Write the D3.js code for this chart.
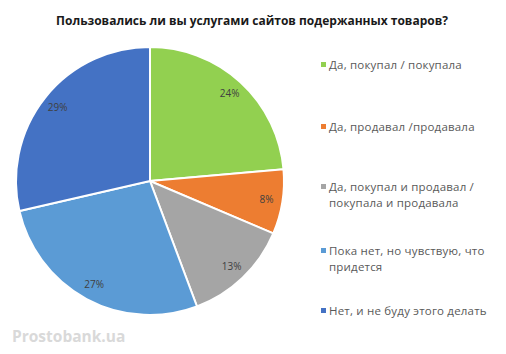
<!DOCTYPE html>
<html>
<head>
<meta charset="UTF-8" />
<title>pie</title>
<script src="https://d3js.org/d3.v7.min.js"></script>
<style>
  body { margin: 0; background: #fff; }
</style>
</head>
<body>
<svg id="chart" width="506" height="354"></svg>
<script>
// data
var title = "Пользовались ли вы услугами сайтов подержанных товаров?"
var categories = [
  ["Да, покупал / покупала"],
  ["Да, продавал /продавала"],
  ["Да, покупал и продавал /", "покупала и продавала"],
  ["Пока нет, но чувствую, что", "придется"],
  ["Нет, и не буду этого делать"]
]
var values = [23.6, 7.8, 12.9, 27.1, 28.6]
var labels = ["24%", "8%", "13%", "27%", "29%"]
var colors = ["#92d050", "#ed7d31", "#a5a5a5", "#5b9bd5", "#4472c4"]
var watermark = "Prostobank.ua"

var svg = d3.select("#chart")
var cx = 150, cy = 181, r = 134

svg.append("text")
  .attr("x", 252).attr("y", 25)
  .attr("text-anchor", "middle")
  .style("font-family", "'Open Sans', sans-serif")
  .style("font-weight", "bold")
  .style("font-size", "12px")
  .attr("fill", "#1a1a1a")
  .text(title)

var pie = d3.pie().sort(null).value(d => d)
var arcs = pie(values)
var arc = d3.arc().innerRadius(0).outerRadius(r)
var labelArc = d3.arc().innerRadius(118).outerRadius(118)

var g = svg.append("g").attr("transform", "translate(" + cx + "," + cy + ")")

g.selectAll("path")
  .data(arcs)
  .enter()
  .append("path")
  .attr("d", arc)
  .attr("fill", (d, i) => colors[i])
  .attr("stroke", "#fff")
  .attr("stroke-width", 2)

g.selectAll("text.lbl")
  .data(arcs)
  .enter()
  .append("text")
  .attr("class", "lbl")
  .attr("transform", d => "translate(" + labelArc.centroid(d) + ")")
  .attr("text-anchor", "middle")
  .attr("dy", "0.35em")
  .style("font-family", "'Open Sans', sans-serif")
  .style("font-size", "10px")
  .attr("fill", "#404040")
  .text((d, i) => labels[i])

// legend
var legendY = [69, 131, 191, 255, 315]
var legend = svg.selectAll("g.leg")
  .data(categories)
  .enter()
  .append("g")
  .attr("class", "leg")
  .attr("transform", (d, i) => "translate(321," + legendY[i] + ")")

legend.append("rect")
  .attr("x", 0).attr("y", -7)
  .attr("width", 5).attr("height", 5)
  .attr("fill", (d, i) => colors[i])

legend.each(function (d) {
  var t = d3.select(this).append("text")
    .style("font-family", "'Open Sans', sans-serif")
    .style("font-size", "11.5px")
    .style("letter-spacing", "0.2px")
    .attr("fill", "#595959")
  d.forEach((line, j) => {
    t.append("tspan").attr("x", 8).attr("y", j * 16).text(line)
  })
})

svg.append("text")
  .attr("x", 12).attr("y", 342)
  .style("font-family", "'Open Sans', sans-serif")
  .style("font-weight", "bold")
  .style("font-size", "15.5px")
  .attr("fill", "#d9d9d9")
  .text(watermark)
</script>
</body>
</html>
